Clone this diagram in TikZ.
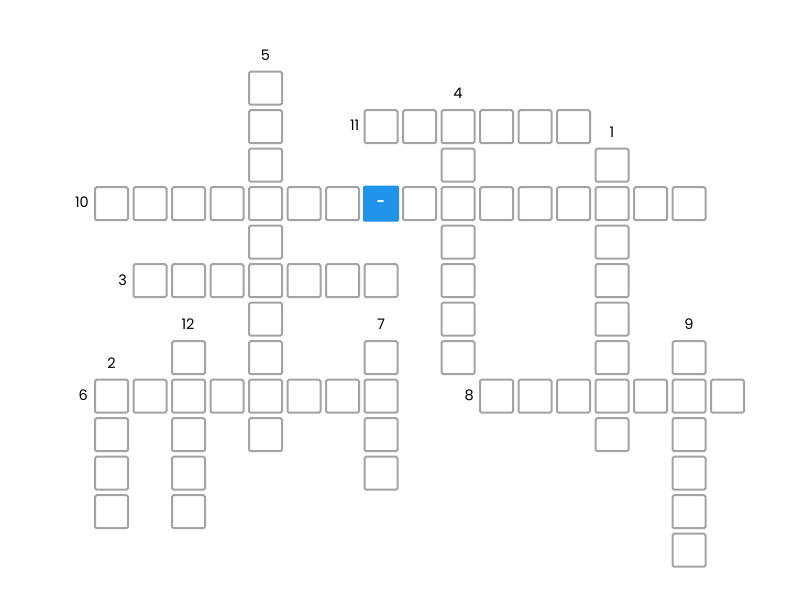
\documentclass[tikz,border=0pt]{standalone}
\usepackage{fontspec}
\setmainfont{Poppins}
\begin{document}
\begin{tikzpicture}[x=1pt,y=-1pt,
  cellbox/.style={draw=celgray,line width=2pt,rounded corners=1.5pt,minimum size=33pt,inner sep=0pt,fill=white},
  hicell/.style={fill=hiblue,draw=hiblue,line width=1pt,rounded corners=1pt,minimum size=35pt,inner sep=0pt,text=white,font=\bfseries\fontsize{14}{14}\selectfont},
  numlab/.style={font=\fontsize{14.5}{15}\selectfont,text=black,inner sep=0pt}]
\definecolor{celgray}{HTML}{A3A3A3}
\definecolor{hiblue}{HTML}{2093EA}
\useasboundingbox (0,0) rectangle (800,600);
\fill[white] (0,0) rectangle (800,600);
\foreach \c/\r in {
  4/0,4/1,4/2,4/3,4/4,4/5,4/6,4/7,4/8,4/9,
  9/1,9/2,9/4,9/5,9/6,9/7,
  7/1,8/1,10/1,11/1,12/1,
  13/2,13/4,13/5,13/6,13/7,13/8,13/9,
  0/3,1/3,2/3,3/3,5/3,6/3,8/3,9/3,10/3,11/3,12/3,13/3,14/3,15/3,
  1/5,2/5,3/5,5/5,6/5,7/5,
  2/7,2/8,2/9,2/10,2/11,
  7/7,7/8,7/9,7/10,
  15/7,15/8,15/9,15/10,15/11,15/12,
  0/8,0/9,0/10,0/11,
  1/8,3/8,5/8,6/8,
  10/8,11/8,12/8,14/8,16/8}
  {\node[cellbox] (c\c-\r) at ({111.5+38.5*\c},{88.2+38.5*\r}) {};}
\node[hicell] (c7-3) at ({111.5+38.5*7},{88.2+38.5*3}) {-};
\node[numlab] (l5) at (265.5,55) {5};
\node[numlab] (l4) at (458,93) {4};
\node[numlab,anchor=east] (l11) at (359.5,125.5) {11};
\node[numlab] (l1) at (612,132) {1};
\node[numlab,anchor=east] (l10) at (89,202) {10};
\node[numlab,anchor=east] (l3) at (127,280) {3};
\node[numlab] (l12) at (188,324) {12};
\node[numlab] (l7) at (381,324) {7};
\node[numlab] (l9) at (689,324) {9};
\node[numlab] (l2) at (111.5,363) {2};
\node[numlab,anchor=east] (l6) at (88,395) {6};
\node[numlab,anchor=east] (l8) at (474,395) {8};
\end{tikzpicture}
\end{document}
